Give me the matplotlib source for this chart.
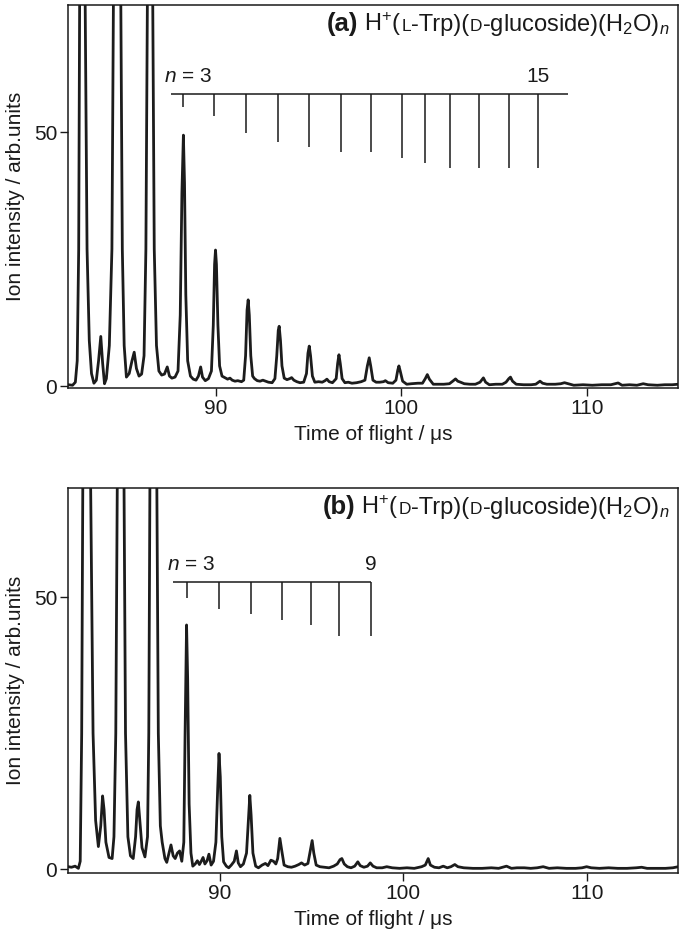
import matplotlib
matplotlib.use("Agg")
import matplotlib.pyplot as plt
from matplotlib.offsetbox import TextArea, HPacker, AnchoredOffsetbox

plt.rcParams['font.family'] = ['Liberation Sans', 'DejaVu Sans']
plt.rcParams['mathtext.fontset'] = 'custom'
plt.rcParams['mathtext.rm'] = 'Liberation Sans'
plt.rcParams['mathtext.it'] = 'Liberation Sans:italic'
plt.rcParams['mathtext.bf'] = 'Liberation Sans:bold'

# ---------------- data: panel (a) ----------------
a_time = [82.07, 82.30, 82.45, 82.55, 82.63, 82.68, 82.83, 82.98, 83.08, 83.20, 83.32, 83.45,
          83.58, 83.70, 83.82, 83.92, 84.02, 84.12, 84.28, 84.42, 84.50, 84.70, 84.90, 84.98,
          85.08, 85.20, 85.35, 85.50, 85.62, 85.74, 85.88, 86.02, 86.15, 86.25, 86.33, 86.48,
          86.62, 86.70, 86.82, 86.95, 87.10, 87.25, 87.40, 87.52, 87.65, 87.82, 87.98, 88.10,
          88.19, 88.27, 88.33, 88.40, 88.50, 88.65, 88.80, 88.95, 89.08, 89.20, 89.30, 89.45,
          89.62, 89.78, 89.88, 89.95, 90.00, 90.05, 90.13, 90.22, 90.35, 90.50, 90.65, 90.78,
          90.90, 91.05, 91.20, 91.40, 91.52, 91.62, 91.70, 91.76, 91.82, 91.90, 92.00, 92.10,
          92.25, 92.40, 92.55, 92.70, 92.85, 93.05, 93.20, 93.30, 93.38, 93.43, 93.50, 93.58,
          93.70, 93.85, 94.00, 94.10, 94.22, 94.38, 94.55, 94.75, 94.90, 94.98, 95.05, 95.12,
          95.22, 95.35, 95.55, 95.75, 95.90, 96.00, 96.12, 96.30, 96.50, 96.58, 96.65, 96.72,
          96.82, 96.97, 97.15, 97.35, 97.60, 97.85, 98.05, 98.18, 98.28, 98.36, 98.48, 98.65,
          98.85, 99.05, 99.15, 99.30, 99.55, 99.72, 99.82, 99.88, 99.95, 100.08, 100.30, 100.55,
          100.90, 101.15, 101.30, 101.41, 101.52, 101.73, 102.00, 102.30, 102.60, 102.78, 102.93,
          103.05, 103.20, 103.40, 103.70, 104.00, 104.25, 104.43, 104.55, 104.75, 105.10, 105.45,
          105.65, 105.80, 105.89, 106.00, 106.20, 106.60, 107.00, 107.25, 107.48, 107.62, 107.85,
          108.30, 108.60, 108.80, 109.00, 109.30, 109.80, 110.30, 110.80, 111.30, 111.69, 111.90,
          112.30, 112.70, 113.04, 113.30, 113.80, 114.20, 114.60, 114.93]
a_intensity = [0.3, 0.2, 0.8, 5, 27, 75, 260, 75, 27, 9, 2.5, 0.6,
               1.2, 5, 9.8, 4.5, 0.5, 1.5, 8, 27, 75, 260, 75, 27,
               8, 1.8, 2.5, 5, 6.7, 3.5, 2.0, 2.4, 6, 27, 75, 260,
               75, 27, 8, 3, 2.2, 2.4, 3.8, 2.0, 1.6, 1.8, 3, 14,
               38, 49.4, 40, 18, 5, 2, 1.4, 1.2, 2.0, 3.8, 1.8, 1.1,
               1.5, 3, 12, 24, 26.8, 24, 12, 4, 2.0, 1.7, 1.4, 1.6,
               1.2, 1.0, 1.1, 0.9, 1.2, 6, 15, 17.0, 14, 6, 2, 1.5,
               1.1, 1.0, 1.2, 1.0, 0.8, 0.7, 1.5, 6, 11, 11.8, 9, 4,
               1.6, 1.3, 1.5, 1.7, 1.2, 0.9, 0.7, 0.8, 2.5, 6.5, 7.9, 6,
               2, 0.8, 0.9, 0.8, 1.1, 1.4, 0.9, 0.7, 1.5, 4.5, 6.2, 4.5,
               1.5, 0.7, 0.8, 0.6, 0.7, 0.9, 1.2, 4, 5.6, 4, 1.2, 0.8,
               0.8, 0.9, 1.1, 0.7, 0.6, 1.2, 3.2, 4.0, 3.0, 1.0, 0.4, 0.5,
               0.6, 0.6, 1.5, 2.3, 1.4, 0.4, 0.4, 0.4, 0.5, 1.0, 1.45,
               1.0, 0.8, 0.5, 0.4, 0.4, 0.8, 1.65, 0.8, 0.3, 0.4, 0.4,
               0.8, 1.5, 1.8, 1.0, 0.4, 0.3, 0.3, 0.4, 1.0, 0.6, 0.4,
               0.4, 0.5, 0.7, 0.5, 0.2, 0.3, 0.2, 0.3, 0.3, 0.65, 0.2,
               0.3, 0.2, 0.5, 0.3, 0.2, 0.3, 0.3, 0.4]
a_marker_time = [88.27, 89.94, 91.64, 93.35, 95.02, 96.76, 98.39, 100.03, 101.27, 102.63,
                 104.19, 105.81, 107.38]
a_marker_bottom = [55.0, 53.1, 49.9, 48.0, 47.0, 46.0, 46.0, 45.0, 44.0, 43.0, 43.0, 43.0, 43.0]
a_bar_y = 57.5
a_bar_start = 87.59
a_bar_end = 108.98
a_labels = ("3", "15")

# ---------------- data: panel (b) ----------------
b_time = [81.73, 81.90, 82.10, 82.28, 82.38, 82.46, 82.52, 82.73, 82.95, 83.08, 83.22, 83.37,
          83.50, 83.60, 83.68, 83.78, 83.95, 84.12, 84.22, 84.32, 84.40, 84.58, 84.77, 84.85,
          84.98, 85.12, 85.27, 85.40, 85.48, 85.55, 85.63, 85.75, 85.91, 86.05, 86.12, 86.18,
          86.38, 86.56, 86.64, 86.75, 86.85, 87.00, 87.10, 87.22, 87.33, 87.45, 87.56, 87.68,
          87.80, 87.92, 88.03, 88.10, 88.18, 88.24, 88.32, 88.42, 88.52, 88.65, 88.77, 88.88,
          88.98, 89.08, 89.18, 89.30, 89.40, 89.52, 89.65, 89.78, 89.88, 89.95, 90.02, 90.10,
          90.20, 90.35, 90.48, 90.62, 90.78, 90.90, 91.00, 91.12, 91.28, 91.45, 91.55, 91.63,
          91.70, 91.80, 91.95, 92.10, 92.30, 92.48, 92.62, 92.78, 92.92, 93.05, 93.15, 93.27,
          93.37, 93.50, 93.70, 93.90, 94.10, 94.30, 94.45, 94.62, 94.80, 94.93, 95.03, 95.12,
          95.25, 95.45, 95.70, 95.95, 96.20, 96.40, 96.55, 96.65, 96.78, 96.95, 97.15, 97.35,
          97.52, 97.65, 97.85, 98.05, 98.20, 98.35, 98.55, 98.85, 99.10, 99.40, 99.80, 100.20,
          100.60, 101.00, 101.20, 101.36, 101.48, 101.70, 101.95, 102.18, 102.40, 102.60, 102.81,
          102.98, 103.30, 103.80, 104.30, 104.80, 105.20, 105.63, 105.90, 106.20, 106.60, 106.95,
          107.30, 107.63, 107.95, 108.40, 108.90, 109.40, 109.75, 110.00, 110.25, 110.70, 111.20,
          111.70, 112.20, 112.70, 113.00, 113.30, 113.80, 114.30, 114.70, 115.00]
b_intensity = [0.5, 0.4, 0.6, 0.2, 1.5, 25, 70, 260, 70, 25, 9, 4.2,
               8, 13.5, 11, 5, 2.2, 2.0, 6, 25, 70, 260, 70, 25,
               6, 2.5, 2.0, 6, 11, 12.4, 9, 4, 2.3, 6, 25, 70,
               260, 70, 25, 8, 5.0, 2.0, 1.3, 3, 4.5, 2.5, 2.0, 3,
               3.4, 1.5, 5, 25, 44.9, 35, 12, 3, 0.6, 1.0, 1.6, 0.9,
               1.5, 2.2, 1.0, 1.6, 2.8, 0.8, 1.5, 5, 15, 21.3, 17, 6,
               1.4, 0.6, 0.3, 0.8, 1.5, 3.4, 1.2, 0.5, 1.0, 3, 9, 13.6,
               10, 3, 0.6, 0.3, 0.8, 1.1, 0.7, 1.7, 1.5, 1.0, 2.0, 5.7,
               3.5, 0.8, 0.5, 0.4, 0.6, 0.9, 1.2, 0.8, 1.1, 3.5, 5.3, 3,
               0.8, 0.5, 0.4, 0.3, 0.6, 1.0, 1.8, 2.0, 1.0, 0.5, 0.3, 0.6,
               1.4, 0.7, 0.4, 0.6, 1.2, 0.6, 0.3, 0.3, 0.5, 0.3, 0.2, 0.3,
               0.2, 0.5, 0.8, 2.0, 0.8, 0.4, 0.3, 0.6, 0.3, 0.5, 0.9,
               0.5, 0.3, 0.2, 0.2, 0.3, 0.2, 0.6, 0.2, 0.3, 0.3, 0.2,
               0.3, 0.5, 0.2, 0.3, 0.2, 0.2, 0.3, 0.5, 0.3, 0.2, 0.3,
               0.2, 0.2, 0.3, 0.4, 0.2, 0.2, 0.2, 0.3, 0.5]
b_marker_time = [88.22, 89.96, 91.71, 93.36, 94.98, 96.50, 98.22]
b_marker_bottom = [49.9, 47.9, 46.9, 45.8, 44.9, 42.8, 42.8]
b_bar_y = 52.8
b_bar_start = 87.45
b_bar_end = 98.22
b_labels = ("3", "9")

x_ticks = [90, 100, 110]
y_ticks = [0, 50]
xlabel = "Time of flight / μs"
ylabel = "Ion intensity / arb.units"

fig = plt.figure(figsize=(6.85, 9.46), dpi=100)
ax_a = fig.add_axes([68.3 / 685, 1 - 388.3 / 946, 610 / 685, 383.3 / 946])
ax_b = fig.add_axes([68.3 / 685, 1 - 872.7 / 946, 610 / 685, 384.4 / 946])

LINE = '#1c1c1c'
TXT = '#1a1a1a'
FS = 15


def title_box(ax, letter, trp_chirality):
    fs = 17
    sc = 12.5
    parts = [
        TextArea(r"H$^{+}$(", textprops=dict(fontsize=fs, color=TXT)),
        TextArea(trp_chirality, textprops=dict(fontsize=sc, color=TXT)),
        TextArea("-Trp)(", textprops=dict(fontsize=fs, color=TXT)),
        TextArea("D", textprops=dict(fontsize=sc, color=TXT)),
        TextArea(r"-glucoside)(H$_{2}$O)$_{n}$", textprops=dict(fontsize=fs, color=TXT)),
    ]
    inner = HPacker(children=parts, align='baseline', pad=0, sep=0)
    head = TextArea(f"({letter})", textprops=dict(fontsize=fs + 1.5, fontweight='bold', color=TXT))
    outer = HPacker(children=[head, inner], align='baseline', pad=0, sep=4)
    box = AnchoredOffsetbox(loc='upper right', child=outer, frameon=False, pad=0, borderpad=0,
                            bbox_to_anchor=(1 - 9 / 610, 1 - 5 / 383), bbox_transform=ax.transAxes)
    ax.add_artist(box)


def panel(ax, t, inten, xlim, ylim, mt, mb, bar_y, bar_start, bar_end, labels, letter, chir):
    ax.plot(t, inten, color=LINE, lw=2.0, solid_joinstyle='round', clip_on=True)
    ax.plot([bar_start, bar_end], [bar_y, bar_y], color=TXT, lw=1.1, solid_capstyle='butt')
    ax.vlines(mt, mb, bar_y, color=TXT, lw=1.1)
    ax.text(bar_start - 0.35, bar_y + 1.5, r"$n$ = " + labels[0], fontsize=FS, ha='left', va='bottom',
            color=TXT)
    ax.text(mt[-1], bar_y + 1.5, labels[1], fontsize=FS, ha='center', va='bottom', color=TXT)
    ax.set_xlim(*xlim)
    ax.set_ylim(*ylim)
    ax.set_xticks(x_ticks)
    ax.set_yticks(y_ticks)
    ax.tick_params(direction='out', length=6, width=1.0, labelsize=FS, pad=2, colors=TXT)
    for s in ax.spines.values():
        s.set_linewidth(1.1)
        s.set_color(TXT)
    ax.set_xlabel(xlabel, fontsize=FS, labelpad=5, color=TXT)
    ax.set_ylabel(ylabel, fontsize=FS, labelpad=6, color=TXT)
    title_box(ax, letter, chir)


panel(ax_a, a_time, a_intensity, (82.07, 114.93), (-0.4, 75), a_marker_time, a_marker_bottom,
      a_bar_y, a_bar_start, a_bar_end, a_labels, 'a', 'L')
panel(ax_b, b_time, b_intensity, (81.73, 115.0), (-0.6, 70), b_marker_time, b_marker_bottom,
      b_bar_y, b_bar_start, b_bar_end, b_labels, 'b', 'D')

fig.savefig("out.png", dpi=100)
